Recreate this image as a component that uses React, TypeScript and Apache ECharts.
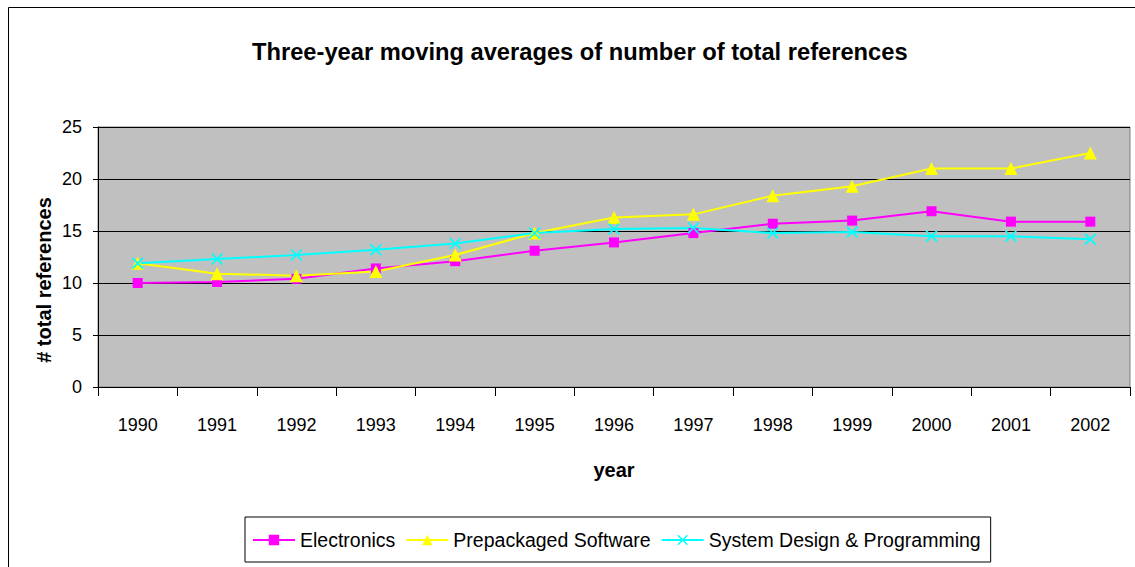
import React, { useEffect, useRef } from "react";
import * as echarts from "echarts";

const years = ["1990", "1991", "1992", "1993", "1994", "1995", "1996", "1997", "1998", "1999", "2000", "2001", "2002"];
const electronics = [10.0, 10.1, 10.4, 11.4, 12.1, 13.1, 13.9, 14.8, 15.7, 16.0, 16.9, 15.9, 15.9];
const prepackaged = [11.9, 10.9, 10.7, 11.1, 12.7, 14.8, 16.3, 16.6, 18.4, 19.3, 21.0, 21.0, 22.5];
const systemDesign = [11.9, 12.3, 12.7, 13.2, 13.8, 14.8, 15.2, 15.3, 14.8, 14.9, 14.5, 14.5, 14.2];

const xSymbol = "path://M0,1 L1,0 L5,4 L9,0 L10,1 L6,5 L10,9 L9,10 L5,6 L1,10 L0,9 L4,5 Z";
const FONT = "'Liberation Sans', Arial, sans-serif";

export default function App() {
  const ref = useRef<HTMLDivElement>(null);
  useEffect(() => {
    document.body.style.margin = "0";
    const chart = echarts.init(ref.current!, null, { renderer: "svg" });
    chart.setOption({
      animation: false,
      backgroundColor: "#ffffff",
      textStyle: { fontFamily: FONT },
      title: {
        text: "Three-year moving averages of number of total references",
        left: 247,
        top: 35,
        textStyle: { fontFamily: FONT, fontSize: 23.7, fontWeight: "bold", color: "#000" },
      },
      graphic: [
        {
          type: "rect",
          shape: { x: 8.5, y: 7.5, width: 1300, height: 700 },
          style: { fill: "none", stroke: "#000", lineWidth: 1 },
          silent: true,
          z: -1,
        },
        {
          type: "text",
          x: 44,
          y: 280,
          rotation: Math.PI / 2,
          style: {
            text: "# total references",
            fill: "#000",
            font: "bold 20px 'Liberation Sans', Arial, sans-serif",
            align: "center",
            verticalAlign: "middle",
          },
        },
      ],
      legend: {
        top: 517,
        left: 245,
        borderColor: "#000",
        borderWidth: 1,
        padding: [13, 10, 12, 7],
        itemGap: 10,
        itemWidth: 42,
        itemHeight: 13,
        textStyle: { fontFamily: FONT, fontSize: 19.5, color: "#000" },
        data: ["Electronics", "Prepackaged Software", "System Design & Programming"],
      },
      grid: { left: 98, right: 5, top: 127, bottom: 180, show: true, backgroundColor: "#c0c0c0", borderColor: "#808080", borderWidth: 1 },
      xAxis: {
        type: "category",
        data: years,
        boundaryGap: true,
        name: "year",
        nameLocation: "middle",
        nameGap: 73,
        nameTextStyle: { fontFamily: FONT, fontSize: 20, fontWeight: "bold", color: "#000" },
        axisLine: { show: true, lineStyle: { color: "#000", width: 1 } },
        axisTick: { show: true, length: 9, lineStyle: { color: "#000" } },
        axisLabel: { fontFamily: FONT, fontSize: 18, color: "#000", margin: 29 },
        splitLine: { show: false },
      },
      yAxis: {
        type: "value",
        min: 0,
        max: 25,
        interval: 5,
        axisLine: { show: true, lineStyle: { color: "#000", width: 1 } },
        axisTick: { show: true, length: 5, lineStyle: { color: "#000" } },
        axisLabel: { fontFamily: FONT, fontSize: 18, color: "#000", margin: 16 },
        splitLine: { show: true, lineStyle: { color: "#000", width: 1 } },
      },
      series: [
        {
          name: "Electronics",
          type: "line",
          data: electronics,
          symbol: "rect",
          symbolSize: 10,
          color: "#ff00ff",
          itemStyle: { color: "#ff00ff" },
          lineStyle: { color: "#ff00ff", width: 2 },
        },
        {
          name: "Prepackaged Software",
          type: "line",
          data: prepackaged,
          symbol: "triangle",
          symbolSize: 13,
          color: "#ffff00",
          itemStyle: { color: "#ffff00" },
          lineStyle: { color: "#ffff00", width: 2 },
        },
        {
          name: "System Design & Programming",
          type: "line",
          data: systemDesign,
          symbol: xSymbol,
          symbolSize: 12,
          color: "#00ffff",
          itemStyle: { color: "#00ffff" },
          lineStyle: { color: "#00ffff", width: 2 },
        },
      ],
    });
    return () => chart.dispose();
  }, []);
  return <div ref={ref} style={{ width: 1135, height: 567 }} />;
}
